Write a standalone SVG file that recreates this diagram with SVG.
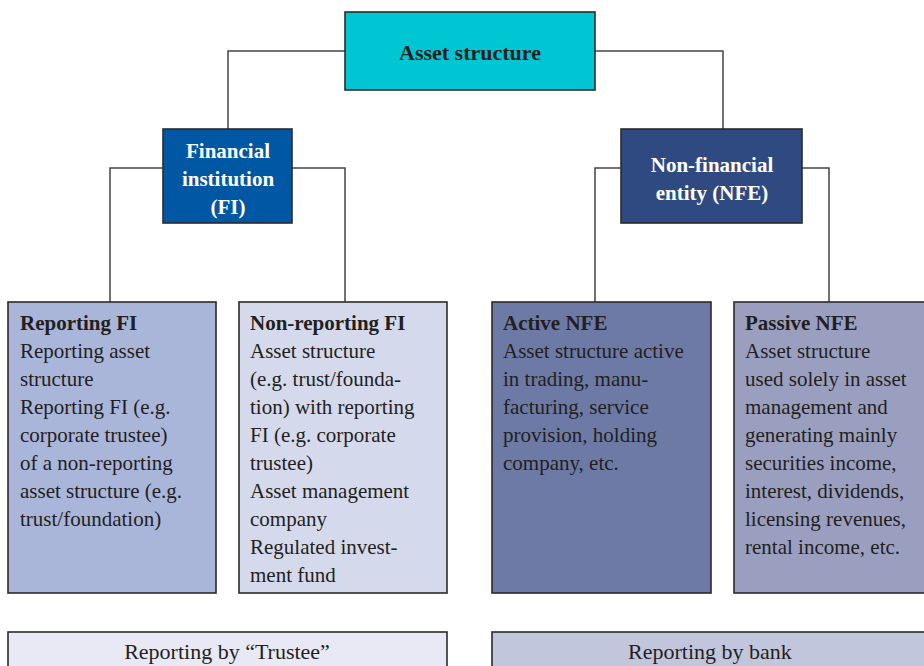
<svg xmlns="http://www.w3.org/2000/svg" width="924" height="666" viewBox="0 0 924 666">
<style>
text{font-family:'Liberation Serif','Times New Roman',serif;font-size:21px;fill:#231f20}
.b{font-weight:bold}
.w{fill:#ffffff;font-weight:bold}
.c{text-anchor:middle}
.l{font-size:22px}
.box{stroke:#2b2b2b;stroke-width:1.6}
#connectors path{fill:none;stroke:#444;stroke-width:1.5}
</style>
<g id="connectors">
<path d="M345 51H228V129"/>
<path d="M595 51H723V129"/>
<path d="M163 168H110V302"/>
<path d="M292 168H345V302"/>
<path d="M621 168H595V302"/>
<path d="M802 168H829V302"/>
</g>
<g id="asset-structure">
<rect class="box" x="345" y="12" width="250" height="78" fill="#00c5d3"/>
<text class="b c l" x="470" y="60">Asset structure</text>
</g>
<g id="fi">
<rect class="box" x="163" y="129" width="129" height="94" fill="#0057a3"/>
<text class="w c" x="228" y="158">Financial</text>
<text class="w c" x="228" y="186">institution</text>
<text class="w c" x="228" y="214">(FI)</text>
</g>
<g id="nfe">
<rect class="box" x="621" y="129" width="181" height="94" fill="#2f4a80"/>
<text class="w c" x="712" y="172">Non-financial</text>
<text class="w c" x="712" y="200">entity (NFE)</text>
</g>
<g id="reporting-fi">
<rect class="box" x="8" y="302" width="208" height="291" fill="#aab5da"/>
<text x="20" y="330"><tspan class="b">Reporting FI</tspan><tspan x="20" dy="28">Reporting asset</tspan><tspan x="20" dy="28">structure</tspan><tspan x="20" dy="28">Reporting FI (e.g.</tspan><tspan x="20" dy="28">corporate trustee)</tspan><tspan x="20" dy="28">of a non-reporting</tspan><tspan x="20" dy="28">asset structure (e.g.</tspan><tspan x="20" dy="28">trust/foundation)</tspan></text>
</g>
<g id="non-reporting-fi">
<rect class="box" x="239" y="302" width="208" height="291" fill="#d5d9ec"/>
<text x="250" y="330"><tspan class="b">Non-reporting FI</tspan><tspan x="250" dy="28">Asset structure</tspan><tspan x="250" dy="28">(e.g. trust/founda-</tspan><tspan x="250" dy="28">tion) with reporting</tspan><tspan x="250" dy="28">FI (e.g. corporate</tspan><tspan x="250" dy="28">trustee)</tspan><tspan x="250" dy="28">Asset management</tspan><tspan x="250" dy="28">company</tspan><tspan x="250" dy="28">Regulated invest-</tspan><tspan x="250" dy="28">ment fund</tspan></text>
</g>
<g id="active-nfe">
<rect class="box" x="492" y="302" width="219" height="291" fill="#6c7aa5"/>
<text x="503" y="330"><tspan class="b">Active NFE</tspan><tspan x="503" dy="28">Asset structure active</tspan><tspan x="503" dy="28">in trading, manu-</tspan><tspan x="503" dy="28">facturing, service</tspan><tspan x="503" dy="28">provision, holding</tspan><tspan x="503" dy="28">company, etc.</tspan></text>
</g>
<g id="passive-nfe">
<rect class="box" x="734" y="302" width="200" height="291" fill="#9a9fc0"/>
<text x="745" y="330"><tspan class="b">Passive NFE</tspan><tspan x="745" dy="28">Asset structure</tspan><tspan x="745" dy="28">used solely in asset</tspan><tspan x="745" dy="28">management and</tspan><tspan x="745" dy="28">generating mainly</tspan><tspan x="745" dy="28">securities income,</tspan><tspan x="745" dy="28">interest, dividends,</tspan><tspan x="745" dy="28">licensing revenues,</tspan><tspan x="745" dy="28">rental income, etc.</tspan></text>
</g>
<g id="reporting-trustee">
<rect class="box" x="8" y="632" width="439" height="50" fill="#e9e9f5"/>
<text class="c l" x="227" y="659">Reporting by “Trustee”</text>
</g>
<g id="reporting-bank">
<rect class="box" x="492" y="632" width="450" height="50" fill="#c2c6dd"/>
<text class="c l" x="710" y="659">Reporting by bank</text>
</g>
</svg>
